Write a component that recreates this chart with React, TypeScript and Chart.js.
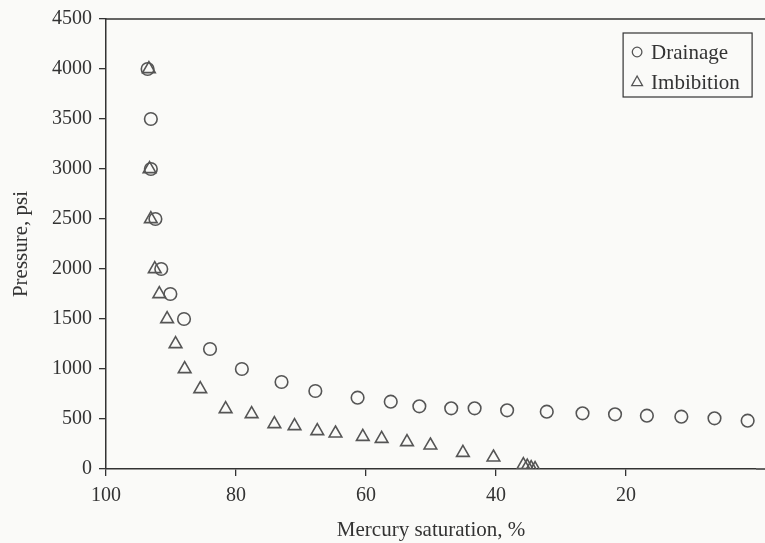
import React, { useEffect, useRef } from "react";
import { Chart, registerables } from "chart.js";

Chart.register(...registerables);

// Drainage series (mercury saturation %, pressure psi)
const drainageSat = [93.6, 93.1, 93.1, 92.4, 91.5, 90.1, 88.0, 84.0, 79.1, 73.0, 67.8, 61.3, 56.2, 51.8, 46.9, 43.3, 38.3, 32.2, 26.7, 21.7, 16.8, 11.5, 6.4, 1.3];
const drainagePsi = [4000, 3500, 3000, 2500, 2000, 1750, 1500, 1200, 1000, 870, 780, 713, 673, 627, 607, 607, 587, 573, 557, 547, 533, 523, 507, 483];

// Imbibition series
const imbibitionSat = [93.4, 93.3, 93.1, 92.5, 91.8, 90.6, 89.3, 87.9, 85.5, 81.6, 77.6, 74.1, 71.0, 67.5, 64.7, 60.5, 57.6, 53.7, 50.1, 45.1, 40.4, 35.8, 35.2, 34.6, 34.0];
const imbibitionPsi = [4000, 3000, 2500, 2000, 1750, 1500, 1250, 1000, 800, 600, 550, 450, 430, 380, 357, 323, 303, 270, 237, 163, 117, 40, 25, 10, 0];

const xTicks = [100, 80, 60, 40, 20];
const yTicks = [0, 500, 1000, 1500, 2000, 2500, 3000, 3500, 4000, 4500];
const seriesNames = ["Drainage", "Imbibition"];

const FONT = "'Liberation Serif', 'DejaVu Serif', serif";
const INK = "#333333";

const bgPlugin = {
  id: "bg",
  beforeDraw(chart: any) {
    const { ctx, width, height } = chart;
    ctx.save();
    ctx.fillStyle = "#fafaf8";
    ctx.fillRect(0, 0, width, height);
    ctx.restore();
  },
};

const framePlugin = {
  id: "frame",
  afterDraw(chart: any) {
    const { ctx, chartArea } = chart;
    ctx.save();
    ctx.strokeStyle = INK;
    ctx.lineWidth = 1.5;
    ctx.beginPath();
    ctx.moveTo(chartArea.left, chartArea.top);
    ctx.lineTo(chart.width, chartArea.top);
    ctx.stroke();
    ctx.beginPath();
    ctx.moveTo(chartArea.right, chartArea.bottom);
    ctx.lineTo(chart.width, chartArea.bottom);
    ctx.stroke();
    ctx.restore();
  },
};

const legendPlugin = {
  id: "boxLegend",
  afterDraw(chart: any) {
    const { ctx, chartArea } = chart;
    const bx = chartArea.right - 133;
    const by = chartArea.top + 14;
    const bw = 129;
    const bh = 64;
    ctx.save();
    ctx.strokeStyle = INK;
    ctx.lineWidth = 1.2;
    ctx.strokeRect(bx, by, bw, bh);
    ctx.font = `21px ${FONT}`;
    ctx.fillStyle = INK;
    ctx.textBaseline = "middle";
    chart.data.datasets.forEach((ds: any, i: number) => {
      const cy = by + 19 + i * 30;
      const mx = bx + 14;
      ctx.lineWidth = 1.3;
      ctx.strokeStyle = "#555";
      ctx.beginPath();
      if (ds.pointStyle === "triangle") {
        const r = 6;
        ctx.moveTo(mx, cy - r);
        ctx.lineTo(mx + r * 0.9, cy + r * 0.6);
        ctx.lineTo(mx - r * 0.9, cy + r * 0.6);
        ctx.closePath();
      } else {
        ctx.arc(mx, cy, 4.8, 0, Math.PI * 2);
      }
      ctx.stroke();
      ctx.fillText(ds.label, bx + 28, cy + 1);
    });
    ctx.restore();
  },
};

export default function App() {
  const ref = useRef<HTMLCanvasElement | null>(null);
  useEffect(() => {
    if (!ref.current) return;
    const chart = new Chart(ref.current, {
      type: "scatter",
      data: {
        datasets: [
          {
            label: seriesNames[0],
            data: drainageSat.map((x, i) => ({ x, y: drainagePsi[i] })),
            pointStyle: "circle",
            pointRadius: 6.3,
            borderWidth: 1.6,
            borderColor: "#555",
            backgroundColor: "rgba(0,0,0,0)",
          },
          {
            label: seriesNames[1],
            data: imbibitionSat.map((x, i) => ({ x, y: imbibitionPsi[i] })),
            pointStyle: "triangle",
            pointRadius: 7.3,
            borderWidth: 1.6,
            borderColor: "#555",
            backgroundColor: "rgba(0,0,0,0)",
          },
        ],
      },
      options: {
        animation: false,
        responsive: false,
        maintainAspectRatio: false,
        layout: { padding: { top: 19, right: 4, left: 0, bottom: 0 } },
        plugins: {
          legend: { display: false },
          tooltip: { enabled: false },
        },
        scales: {
          x: {
            type: "linear",
            reverse: true,
            min: 0,
            max: 100,
            afterBuildTicks(axis: any) {
              axis.ticks = xTicks.map((v) => ({ value: v }));
            },
            afterFit(axis: any) {
              axis.height = 74;
            },
            ticks: {
              callback: (v: any) => String(v),
              font: { family: FONT, size: 20 },
              color: INK,
              padding: 8,
              maxRotation: 0,
            },
            grid: { drawOnChartArea: false, tickLength: 7, color: INK, lineWidth: 1.3 },
            border: { color: INK, width: 1.5 },
            title: {
              display: true,
              text: "Mercury saturation, %",
              font: { family: FONT, size: 21 },
              color: INK,
              padding: { top: 4, bottom: 0 },
            },
          },
          y: {
            type: "linear",
            min: 0,
            max: 4500,
            afterBuildTicks(axis: any) {
              axis.ticks = yTicks.map((v) => ({ value: v }));
            },
            afterFit(axis: any) {
              axis.width = 106;
            },
            ticks: {
              callback: (v: any) => String(v),
              font: { family: FONT, size: 20 },
              color: INK,
              padding: 7,
            },
            grid: { drawOnChartArea: false, tickLength: 7, color: INK, lineWidth: 1.3 },
            border: { color: INK, width: 1.5 },
            title: {
              display: true,
              text: "Pressure, psi",
              font: { family: FONT, size: 21 },
              color: INK,
              padding: { top: 9, bottom: 4 },
            },
          },
        },
      },
      plugins: [bgPlugin, framePlugin, legendPlugin],
    });
    return () => chart.destroy();
  }, []);
  return (
    <div style={{ position: "absolute", left: 0, top: 0, width: 765, height: 543 }}>
      <canvas ref={ref} width={765} height={543} style={{ display: "block" }} />
    </div>
  );
}
